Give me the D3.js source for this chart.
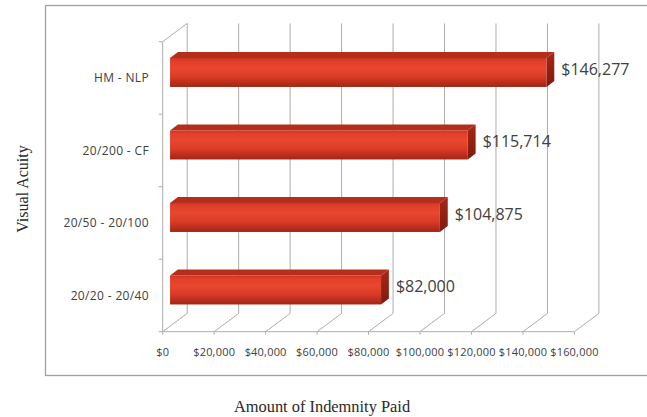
<!DOCTYPE html>
<html>
<head>
<meta charset="utf-8">
<script src="https://cdn.jsdelivr.net/npm/d3@7"></script>
<style>
  html, body { margin: 0; padding: 0; background: #fff; }
  svg { display: block; }
</style>
</head>
<body>
<svg id="chart" width="647" height="417"></svg>
<script>
// Indemnity paid by visual acuity group (top to bottom)
const categories = ["HM - NLP", "20/200 - CF", "20/50 - 20/100", "20/20 - 20/40"];
const amounts = [146277, 115714, 104875, 82000];
const valueLabels = ["$146,277", "$115,714", "$104,875", "$82,000"];
const xTicks = [0, 20000, 40000, 60000, 80000, 100000, 120000, 140000, 160000];
const xTickLabels = ["$0", "$20,000", "$40,000", "$60,000", "$80,000", "$100,000", "$120,000", "$140,000", "$160,000"];

const svg = d3.select("#chart");

// Front plane of the 3D plot area and the depth offset to the back wall
const frontLeft = 162.7, frontTop = 41.7, frontBottom = 331.7;
const depthX = 24.5, depthY = 18.3;
const barFront = 0.3, barBack = 0.62; // bar position inside the depth

const x = d3.scaleLinear().domain([0, 160000]).range([frontLeft, frontLeft + 411.7]);
const y = d3.scaleBand().domain(categories).range([frontTop, frontBottom])
  .paddingInner(0.6).paddingOuter(0.3);
const yStep = d3.scaleBand().domain(categories).range([frontTop, frontBottom]);

const gridColor = "#adadad";

// Outer chart frame
svg.append("rect")
  .attr("x", 45.5).attr("y", 5.5).attr("width", 620).attr("height", 370)
  .attr("fill", "none").attr("stroke", "#a0a0a0").attr("stroke-width", 1.3);

// Gradients for bar faces
const defs = svg.append("defs");
const gFront = defs.append("linearGradient").attr("id", "barFront")
  .attr("x1", 0).attr("y1", 0).attr("x2", 0).attr("y2", 1);
[[0, "#cf3522"], [0.12, "#e2402b"], [0.35, "#ea4630"], [0.65, "#d93b26"], [1, "#a32415"]]
  .forEach(([o, c]) => gFront.append("stop").attr("offset", o).attr("stop-color", c));
const gSide = defs.append("linearGradient").attr("id", "barSide")
  .attr("x1", 0).attr("y1", 0).attr("x2", 0).attr("y2", 1);
[[0, "#a82716"], [1, "#7e1a0e"]]
  .forEach(([o, c]) => gSide.append("stop").attr("offset", o).attr("stop-color", c));

const grid = svg.append("g").attr("stroke", gridColor).attr("stroke-width", 1).attr("fill", "none");

// Back wall gridlines and floor diagonals
xTicks.forEach(t => {
  const fx = x(t);
  grid.append("line")
    .attr("x1", fx + depthX).attr("y1", frontBottom - depthY)
    .attr("x2", fx + depthX).attr("y2", frontTop - depthY);
  grid.append("line")
    .attr("x1", fx).attr("y1", frontBottom)
    .attr("x2", fx + depthX).attr("y2", frontBottom - depthY);
  // small tick under the front axis
  grid.append("line")
    .attr("x1", fx).attr("y1", frontBottom)
    .attr("x2", fx).attr("y2", frontBottom + 3);
});

// Front axis lines and left wall top edge
grid.append("line").attr("x1", x(0)).attr("y1", frontBottom).attr("x2", x(160000)).attr("y2", frontBottom);
grid.append("line").attr("x1", frontLeft).attr("y1", frontTop).attr("x2", frontLeft).attr("y2", frontBottom);
grid.append("line").attr("x1", frontLeft).attr("y1", frontTop)
  .attr("x2", frontLeft + depthX).attr("y2", frontTop - depthY);

// Category boundary ticks on the vertical axis
const boundaries = categories.map(c => yStep(c)).concat([frontBottom]);
boundaries.forEach(b => {
  grid.append("line").attr("x1", frontLeft - 4).attr("y1", b).attr("x2", frontLeft).attr("y2", b);
});

// 3D bars
const bars = svg.append("g");
categories.forEach((c, i) => {
  const v = amounts[i];
  const ox1 = barFront * depthX, oy1 = -barFront * depthY;
  const ox2 = barBack * depthX, oy2 = -barBack * depthY;
  const xl = x(0), xr = x(v);
  const yt = y(c), yb = y(c) + y.bandwidth();

  // top face
  bars.append("polygon")
    .attr("points", [
      [xl + ox1, yt + oy1], [xr + ox1, yt + oy1],
      [xr + ox2, yt + oy2], [xl + ox2, yt + oy2]
    ].map(p => p.join(",")).join(" "))
    .attr("fill", "#b52e1c");
  // end face
  bars.append("polygon")
    .attr("points", [
      [xr + ox1, yt + oy1], [xr + ox2, yt + oy2],
      [xr + ox2, yb + oy2], [xr + ox1, yb + oy1]
    ].map(p => p.join(",")).join(" "))
    .attr("fill", "url(#barSide)");
  // front face
  bars.append("rect")
    .attr("x", xl + ox1).attr("y", yt + oy1)
    .attr("width", xr - xl).attr("height", yb - yt)
    .attr("fill", "url(#barFront)");

  // value label
  svg.append("text")
    .attr("x", xr + ox2 + 7)
    .attr("y", y(c) + y.bandwidth() / 2 - 0.5 * depthY)
    .attr("dy", "0.36em")
    .attr("font-family", "'Open Sans', sans-serif")
    .attr("font-size", 16)
    .attr("fill", "#404040")
    .text(valueLabels[i]);
});

// Category labels
svg.append("g").selectAll("text").data(categories).join("text")
  .attr("x", 149)
  .attr("y", d => y(d) + y.bandwidth() / 2)
  .attr("dy", "0.36em")
  .attr("text-anchor", "end")
  .attr("font-family", "'Open Sans', sans-serif")
  .attr("font-size", 12)
  .attr("letter-spacing", 0.35)
  .attr("fill", "#404040")
  .text(d => d);

// X tick labels
svg.append("g").selectAll("text").data(xTicks).join("text")
  .attr("x", d => x(d))
  .attr("y", 352.5)
  .attr("dy", "0.36em")
  .attr("text-anchor", "middle")
  .attr("font-family", "'Open Sans', sans-serif")
  .attr("font-size", 11)
  .attr("letter-spacing", 0.2)
  .attr("fill", "#404040")
  .text((d, i) => xTickLabels[i]);

// Axis titles
svg.append("text")
  .attr("transform", "translate(28,189) rotate(-90)")
  .attr("text-anchor", "middle")
  .attr("font-family", "'Liberation Serif', 'Times New Roman', serif")
  .attr("font-size", 16)
  .attr("fill", "#2a2a2a")
  .text("Visual Acuity");

svg.append("text")
  .attr("x", 322).attr("y", 412)
  .attr("text-anchor", "middle")
  .attr("font-family", "'Liberation Serif', 'Times New Roman', serif")
  .attr("font-size", 16.4)
  .attr("fill", "#2a2a2a")
  .text("Amount of Indemnity Paid");
</script>
</body>
</html>
